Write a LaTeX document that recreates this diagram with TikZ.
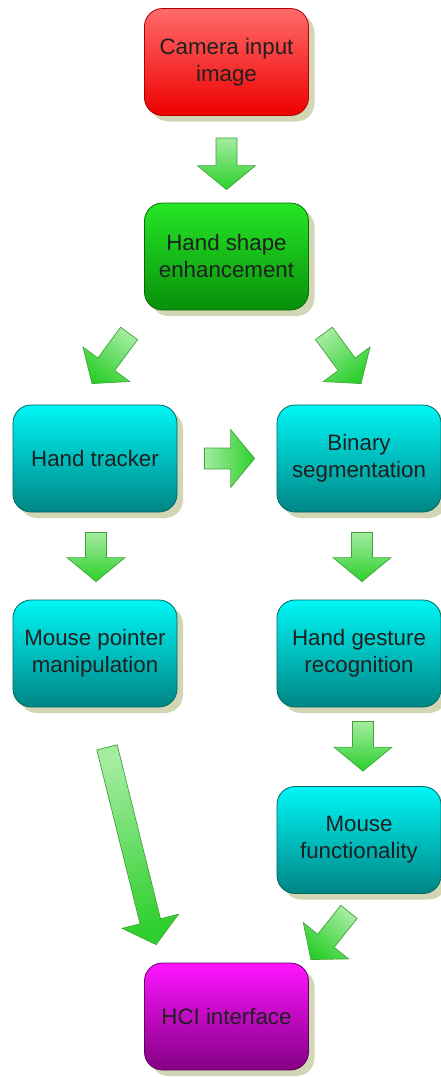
\documentclass[tikz,border=0pt]{standalone}
\usepackage{fontspec}
\setmainfont{Liberation Sans}
\usetikzlibrary{calc,shadows}

\definecolor{shadowc}{HTML}{D3D6B4}
\definecolor{redtop}{HTML}{FF6A6A}
\definecolor{redbot}{HTML}{EE0000}
\definecolor{redline}{HTML}{B00000}
\definecolor{grntop}{HTML}{26E626}
\definecolor{grnbot}{HTML}{08900A}
\definecolor{grnline}{HTML}{066A06}
\definecolor{cyntop}{HTML}{00F6F6}
\definecolor{cynbot}{HTML}{008585}
\definecolor{cynline}{HTML}{006666}
\definecolor{mgttop}{HTML}{FF14FF}
\definecolor{mgtbot}{HTML}{820082}
\definecolor{mgtline}{HTML}{600060}
\definecolor{arrlight}{HTML}{A4ECA0}
\definecolor{arrdark}{HTML}{2CCF2C}
\definecolor{arrline}{HTML}{3FA538}

\tikzset{
  box/.style={rounded corners=18pt, minimum width=164pt, minimum height=107pt,
    align=center, font=\fontsize{22.3}{27}\selectfont, text=black!88,
    line width=0.8pt,
    drop shadow={shadow xshift=6pt, shadow yshift=-6pt, fill=shadowc, opacity=1}},
  redbox/.style={box, draw=redline, top color=redtop, bottom color=redbot},
  greenbox/.style={box, draw=grnline, top color=grntop, bottom color=grnbot},
  cyanbox/.style={box, draw=cynline, top color=cyntop, bottom color=cynbot},
  purplebox/.style={box, draw=mgtline, top color=mgttop, bottom color=mgtbot},
  arrowbody/.style={draw=arrline, line width=0.7pt, line join=miter,
    top color=arrlight, bottom color=arrdark},
}

% block arrow from tail point #1 to tip point #2
\newcommand\greenarrow[2]{%
  \path let \p1=(#1), \p2=(#2) in \pgfextra{%
    \pgfmathsetmacro\gaA{atan2(\y2-\y1,\x2-\x1)}%
    \pgfmathsetmacro\gaL{veclen(\x2-\x1,\y2-\y1)}%
    \xdef\gaAng{\gaA}\xdef\gaLen{\gaL}%
    \xdef\gaX{\x1}\xdef\gaY{\y1}};
  \pgfmathsetmacro\gaS{\gaLen-24}%
  \pgfmathsetmacro\gaSh{\gaAng+90}%
  \begin{scope}[shift={(\gaX,\gaY)}, rotate=\gaAng]
    \shade[arrowbody, shading angle=\gaSh]
      (0pt,-10.5pt) -- (\gaS pt,-10.5pt) -- (\gaS pt,-29pt) -- (\gaLen pt,0pt)
      -- (\gaS pt,29pt) -- (\gaS pt,10.5pt) -- (0pt,10.5pt) -- cycle;
  \end{scope}}

\begin{document}
\begin{tikzpicture}[x=1pt, y=-1pt]
  \useasboundingbox (0,0) rectangle (441,1077);

  \node[redbox]    (cam)     at (226.5,62)    {Camera input\\image};
  \node[greenbox]  (enh)     at (226.5,256.5) {Hand shape\\enhancement};
  \node[cyanbox]   (tracker) at (95,458.5)    {Hand tracker};
  \node[cyanbox]   (binseg)  at (359,458.5)   {Binary\\segmentation};
  \node[cyanbox]   (mpm)     at (95,653.5)    {Mouse pointer\\manipulation};
  \node[cyanbox]   (hgr)     at (359,653.5)   {Hand gesture\\recognition};
  \node[cyanbox]   (mf)      at (359,840)     {Mouse\\functionality};
  \node[purplebox] (hci)     at (226.5,1016.5){HCI interface};

  \greenarrow{$(cam.south)+(0,22)$}{$(enh.north)+(0,-13)$}
  \greenarrow{$(enh.south west)+(-15,23)$}{$(tracker.north)+(-3,-21)$}
  \greenarrow{$(enh.south east)+(15,23)$}{$(binseg.north)+(2,-21)$}
  \greenarrow{$(tracker.east)+(27,0)$}{$(binseg.west)+(-22,0)$}
  \greenarrow{$(tracker.south)+(1,20)$}{$(mpm.north)+(1,-18)$}
  \greenarrow{$(binseg.south)+(3,20)$}{$(hgr.north)+(3,-18)$}
  \greenarrow{$(hgr.south)+(4,14)$}{$(mf.north)+(4,-15)$}
  \greenarrow{$(mpm.south)+(12,40)$}{$(hci.north west)+(12,-18)$}
  \greenarrow{$(mf.south)+(-10,18)$}{$(hci.north east)+(2,-3)$}
\end{tikzpicture}
\end{document}
